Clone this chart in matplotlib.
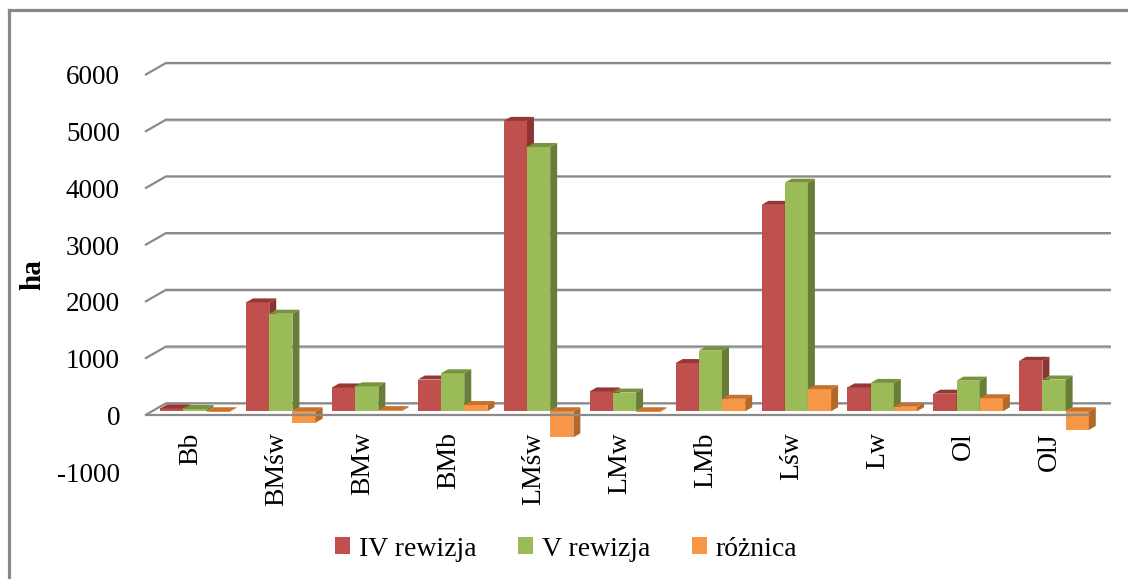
import matplotlib.pyplot as plt
from matplotlib.patches import Polygon, Rectangle
from matplotlib.lines import Line2D

# powierzchnia typow siedliskowych lasu, IV i V rewizja
kategorie = ['Bb', 'BMśw', 'BMw', 'BMb', 'LMśw', 'LMw', 'LMb', 'Lśw', 'Lw', 'Ol', 'OlJ']
iv_rewizja = [50, 1920, 420, 560, 5120, 350, 850, 3640, 420, 310, 890]
v_rewizja = [40, 1720, 440, 670, 4660, 330, 1070, 4030, 500, 540, 560]
roznica = [-10, -200, 20, 110, -460, -20, 220, 390, 80, 230, -330]
serie = ['IV rewizja', 'V rewizja', 'różnica']
y_ticks = [-1000, 0, 1000, 2000, 3000, 4000, 5000, 6000]
grid_vals = [0, 1000, 2000, 3000, 4000, 5000, 6000]

# kolory: przod, bok, gora
kolory = [('#C0504D', '#8C3431', '#953735'),
          ('#9BBB59', '#687E38', '#77933C'),
          ('#F79646', '#B4682A', '#C4722E')]

fig = plt.figure(figsize=(11.28, 5.79), dpi=100)
W, H = 1128, 579
ax = fig.add_axes([145 / W, 1 - 472 / H, (1090 - 145) / W, (472 - 75) / H])
ax.set_xlim(-0.5, 10.5)
ax.set_ylim(-1000, 6000)
for s in ax.spines.values():
    s.set_visible(False)
ax.set_xticks([])
ax.set_yticks(y_ticks)
ax.set_yticklabels([str(t) for t in y_ticks], family='Liberation Serif', fontsize=19.5)
ax.tick_params(axis='y', length=0, pad=18)

# glebokosc sceny 3d w jednostkach danych
DX, DY = 0.244, 212
ox, oy = DX / 3, DY / 3
dx, dy = DX / 3, DY / 3
w = 0.27
x0, x1 = -0.5, 10.5

# siatka na tylnej scianie + skosy na lewej scianie
for g in grid_vals:
    ax.plot([x0 + DX, x1 + DX], [g + DY - 18, g + DY - 18], color='#dcdcdc', lw=1.2,
            zorder=1, clip_on=False, solid_capstyle='butt')
    ax.plot([x0, x0 + DX, x1 + DX], [g, g + DY, g + DY], color='#8a8a8a', lw=1.6,
            zorder=2, clip_on=False, solid_capstyle='butt')


def slupek(xl, val, c, z):
    front, side, top = c
    b, t = oy + min(0, val), oy + max(0, val)
    xr = xl + w
    ax.add_patch(Rectangle((xl, b), w, t - b, facecolor=front, edgecolor='none',
                           zorder=z, clip_on=False))
    ax.add_patch(Polygon([(xr, b), (xr, t), (xr + dx, t + dy), (xr + dx, b + dy)],
                         facecolor=side, edgecolor='none', zorder=z, clip_on=False))
    ax.add_patch(Polygon([(xl, t), (xr, t), (xr + dx, t + dy), (xl + dx, t + dy)],
                         facecolor=top, edgecolor='none', zorder=z, clip_on=False))


dane = [iv_rewizja, v_rewizja, roznica]
for i in range(len(kategorie)):
    for j in range(3):
        xl = i + ox - 1.5 * w + j * w
        slupek(xl, dane[j][i], kolory[j], 10 + i * 3 + j)

# przednia krawedz podlogi
ax.plot([x0, x1], [0, 0], color='#8a8a8a', lw=1.6, zorder=100, clip_on=False,
        solid_capstyle='butt')

for i, k in enumerate(kategorie):
    ax.text(i + 0.03, -300, k, rotation=90, ha='center', va='top',
            family='Liberation Serif', fontsize=20)

fig.text(33 / W, 1 - 275 / H, 'ha', rotation=90, ha='center', va='center',
         family='Liberation Serif', fontweight='bold', fontsize=21)

uchwyty = [Rectangle((0, 0), 1, 1, facecolor=c[0], edgecolor='none') for c in kolory]
fig.legend(uchwyty, serie, loc='center', bbox_to_anchor=(566 / W, 1 - 549 / H), ncol=3,
           frameon=False, handlelength=0.55, handleheight=0.55, handletextpad=0.3,
           columnspacing=1.5, prop={'family': 'Liberation Serif', 'size': 20})

# ramka wykresu
fig.add_artist(Line2D([9 / W, 1], [1 - 10 / H, 1 - 10 / H], color='#888888', lw=2.3,
                      transform=fig.transFigure))
fig.add_artist(Line2D([9 / W, 9 / W], [0, 1 - 10 / H], color='#888888', lw=2.3,
                      transform=fig.transFigure))

fig.savefig('out.png', dpi=100)
